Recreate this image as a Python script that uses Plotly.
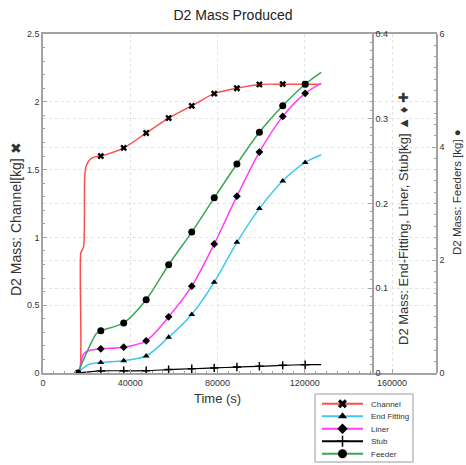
import plotly.graph_objects as go

# ---------------- data ----------------
title_text = "D2 Mass Produced"
x_title = "Time (s)"
y1_title = "D2 Mass: Channel[kg] \u2716"
y2_title = "D2 Mass: End-Fitting, Liner, Stub[kg] \u25B2 \u2666 \u271A"
y3_title = "D2 Mass: Feeders [kg] \u25CF"
x_tick_vals = [0, 40000, 80000, 120000, 160000]

series_names = ["Channel", "End Fitting", "Liner", "Stub", "Feeder"]

# times at which symbols are drawn
marker_times = [26500, 37000, 47300, 57600, 68200, 78500, 88900, 99200, 109900, 120200]
feeder_marker_times = [16000] + marker_times

channel_t = [16000, 17000, 17300, 18000, 18600, 18950, 19150, 19700, 20800, 23000,
             26500, 37000, 47300, 57600, 68200, 78500, 88900, 99200, 109900, 120200, 127500]
channel_kg = [0.0, 0.03, 0.88, 0.91, 0.93, 1.05, 1.45, 1.52, 1.56, 1.59,
              1.60, 1.66, 1.77, 1.88, 1.97, 2.06, 2.10, 2.128, 2.13, 2.13, 2.13]

endfit_t = [16000, 18000, 21000, 26500, 37000, 47300, 57600, 68200, 78500, 88900,
            99200, 109900, 120200, 127500]
endfit_kg = [0.0, 0.005, 0.010, 0.0125, 0.0145, 0.020, 0.0422, 0.0691, 0.1072, 0.1542,
             0.194, 0.2266, 0.2484, 0.2575]

liner_t = [16000, 17000, 18500, 20500, 26500, 37000, 47300, 57600, 68200, 78500,
           88900, 99200, 109900, 120200, 127500]
liner_kg = [0.0, 0.006, 0.022, 0.026, 0.0285, 0.0305, 0.038, 0.0663, 0.1024, 0.1522,
            0.2087, 0.2607, 0.3028, 0.330, 0.3417]

stub_t = [16000, 26500, 37000, 47300, 57600, 68200, 78500, 88900, 99200, 109900,
          120200, 127500]
stub_kg = [0.0, 0.0025, 0.0026, 0.0028, 0.0040, 0.0050, 0.0060, 0.0070, 0.0079, 0.0090,
           0.0098, 0.0100]

feeder_t = [16000, 24500, 26500, 37000, 47300, 57600, 68200, 78500, 88900, 99200,
            109900, 120200, 127500]
feeder_kg = [0.0, 0.70, 0.747, 0.886, 1.295, 1.916, 2.494, 3.10, 3.70, 4.26,
             4.73, 5.11, 5.32]

# ---------------- styling ----------------
FONT = "Liberation Sans, Arial, sans-serif"
AXIS_COL = "#a3a3a3"
GRID_COL = "#e2e2e2"
TXT = "#333333"

styles = {
    "Channel":     dict(color="#ff4d4d", symbol="x", size=6, axis="y"),
    "End Fitting": dict(color="#3cc8f0", symbol="triangle-up", size=6, axis="y2"),
    "Liner":       dict(color="#ff3cff", symbol="diamond", size=6, axis="y2"),
    "Stub":        dict(color="#000000", symbol="cross-thin", size=6, axis="y2"),
    "Feeder":      dict(color="#3aa655", symbol="circle", size=7, axis="y3"),
}

data = {
    "Channel": (channel_t, channel_kg, marker_times),
    "End Fitting": (endfit_t, endfit_kg, marker_times),
    "Liner": (liner_t, liner_kg, marker_times),
    "Stub": (stub_t, stub_kg, marker_times),
    "Feeder": (feeder_t, feeder_kg, feeder_marker_times),
}


def marker_dict(st, grow=0):
    m = dict(symbol=st["symbol"], size=st["size"] + grow, color="#000000")
    if st["symbol"] == "cross-thin":
        m["line"] = dict(color="#000000", width=1.5)
    else:
        m["line"] = dict(width=0)
    return m


fig = go.Figure()

for name in series_names:
    t, v, mt = data[name]
    st = styles[name]
    lw = 1.2 if name == "Stub" else 1.5
    fig.add_trace(go.Scatter(x=t, y=v, mode="lines", yaxis=st["axis"],
                             line=dict(color=st["color"], width=lw, shape="spline", smoothing=0.8),
                             showlegend=False, hoverinfo="skip"))
    mx = [tt for tt in t if tt in mt]
    my = [vv for tt, vv in zip(t, v) if tt in mt]
    fig.add_trace(go.Scatter(x=mx, y=my, mode="markers", yaxis=st["axis"],
                             marker=marker_dict(st), showlegend=False))

# ---- legend key drawn on its own small axes (x: 0..1 along the key line) ----
for name in series_names:
    st = styles[name]
    fig.add_trace(go.Scatter(x=[0, 1], y=[name, name], mode="lines",
                             xaxis="x2", yaxis="y4", showlegend=False, hoverinfo="skip",
                             line=dict(color=st["color"], width=2)))
    fig.add_trace(go.Scatter(x=[0.5], y=[name], mode="markers",
                             xaxis="x2", yaxis="y4", showlegend=False, hoverinfo="skip",
                             marker=marker_dict(st, grow=2)))

W, H = 466, 465
L, R, T, B = 43, 29, 34, 2
pw = W - L - R
ph = H - T - B


def px_x(px):
    return (px - L) / pw


def px_y(py):
    return (H - B - py) / ph


x_max = 160000 * pw / (392 - L)   # 160000 sits at pixel 392
y2_pos = px_x(373)
main_bottom = px_y(373)

common_axis = dict(showline=True, linecolor=AXIS_COL, linewidth=1.5,
                   tickfont=dict(family=FONT, size=9, color=TXT),
                   zeroline=False, automargin=False)
grid = dict(showgrid=True, gridcolor=GRID_COL, griddash="dot", gridwidth=1)

fig.update_layout(
    width=W, height=H,
    margin=dict(l=L, r=R, t=T, b=B),
    paper_bgcolor="white", plot_bgcolor="white",
    font=dict(family=FONT, color=TXT),
    showlegend=False,
    title=dict(text=title_text, x=0.5, xref="container", xanchor="center",
               y=1 - 15 / H, yref="container", yanchor="middle",
               font=dict(family=FONT, size=14, color="#222222")),
    xaxis=dict(domain=[0, 1], range=[0, x_max], tickvals=x_tick_vals, tickformat="d",
               anchor="y", mirror=True, ticks="inside", ticklen=4, tickcolor=AXIS_COL,
               minor=dict(tickvals=[i * 5000 for i in range(1, 31)], ticks="inside",
                          ticklen=2, tickcolor=AXIS_COL, showgrid=False),
               **grid, **common_axis),
    yaxis=dict(domain=[main_bottom, 1], range=[0, 2.5], dtick=0.5,
               ticks="inside", ticklen=4, tickcolor=AXIS_COL,
               minor=dict(dtick=0.1, ticks="inside", ticklen=2, tickcolor=AXIS_COL,
                          showgrid=False),
               **grid, **common_axis),
    yaxis2=dict(range=[0, 0.4], dtick=0.1, overlaying="y", side="right",
                anchor="free", position=y2_pos,
                ticks="inside", ticklen=4, tickcolor=AXIS_COL,
                minor=dict(dtick=0.01, ticks="inside", ticklen=2, tickcolor=AXIS_COL,
                           showgrid=False),
                **grid, **common_axis),
    yaxis3=dict(range=[0, 6], dtick=2, overlaying="y", side="right",
                anchor="free", position=1.0,
                ticks="inside", ticklen=4, tickcolor=AXIS_COL,
                minor=dict(dtick=0.2, ticks="inside", ticklen=2, tickcolor=AXIS_COL,
                           showgrid=False),
                **grid, **common_axis),
    # legend key axes
    xaxis2=dict(domain=[px_x(322), px_x(363)], range=[0, 1], anchor="y4",
                visible=False, fixedrange=True),
    yaxis4=dict(domain=[px_y(460), px_y(397.5)], anchor="x2", side="right",
                type="category", categoryorder="array", categoryarray=series_names,
                range=[4.5, -0.5], showgrid=False, showline=False, zeroline=False,
                ticks="", ticklabelstandoff=7, automargin=False,
                tickfont=dict(family=FONT, size=8, color=TXT), fixedrange=True),
    shapes=[
        dict(type="rect", xref="paper", yref="paper",
             x0=px_x(315), x1=px_x(413), y0=px_y(462), y1=px_y(394),
             line=dict(color="#9a9a9a", width=1), fillcolor="rgba(0,0,0,0)", layer="below"),
    ],
    annotations=[
        dict(text=x_title, xref="paper", yref="paper", x=px_x(217), y=px_y(398),
             xanchor="center", yanchor="middle", showarrow=False,
             font=dict(family=FONT, size=13, color=TXT)),
        dict(text=y1_title, xref="paper", yref="paper", x=px_x(16), y=px_y(219),
             xanchor="center", yanchor="middle", showarrow=False, textangle=-90,
             font=dict(family=FONT, size=14, color=TXT)),
        dict(text=y2_title, xref="paper", yref="paper", x=px_x(403), y=px_y(219),
             xanchor="center", yanchor="middle", showarrow=False, textangle=-90,
             font=dict(family=FONT, size=13, color=TXT)),
        dict(text=y3_title, xref="paper", yref="paper", x=px_x(457), y=px_y(192),
             xanchor="center", yanchor="middle", showarrow=False, textangle=-90,
             font=dict(family=FONT, size=11.5, color=TXT)),
    ],
)

fig.write_html("out.html",
               config={"displayModeBar": False},
               post_script="document.body.style.margin='0';document.body.style.overflow='hidden';")
